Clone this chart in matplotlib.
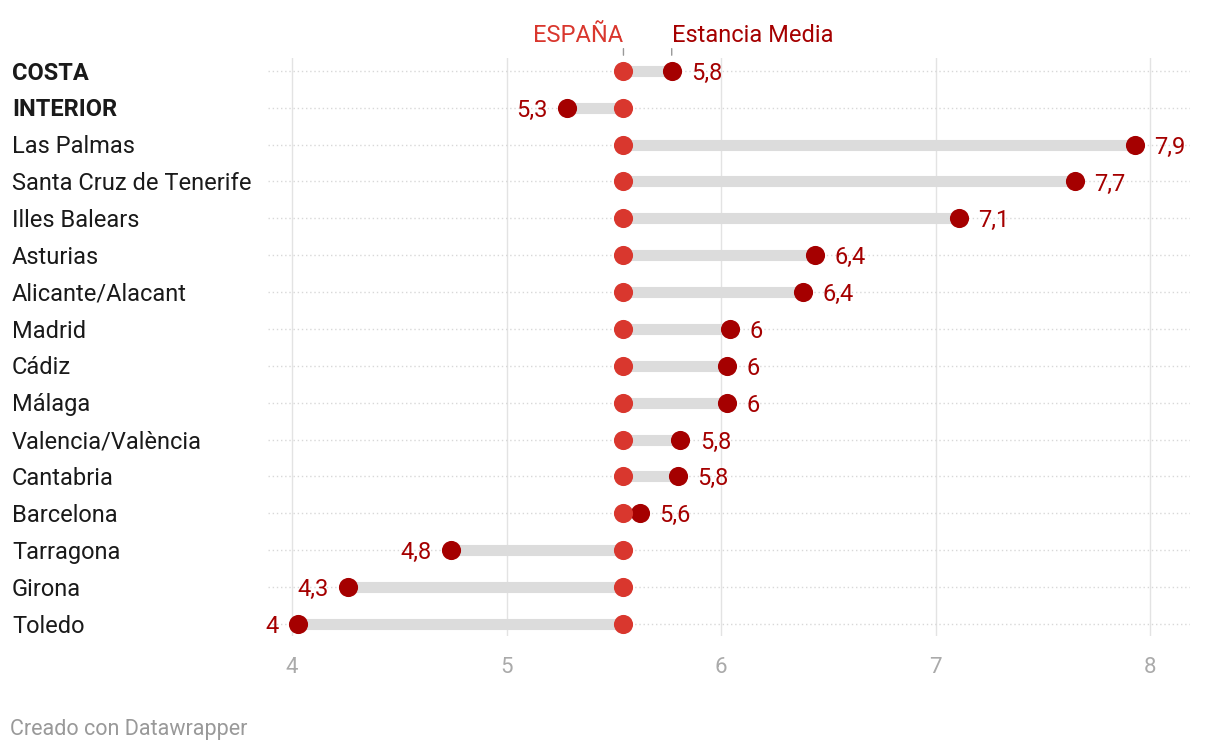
import matplotlib.pyplot as plt

plt.rcParams["font.family"] = ["Roboto", "DejaVu Sans"]

# Data
regions = ["COSTA", "INTERIOR", "Las Palmas", "Santa Cruz de Tenerife", "Illes Balears",
           "Asturias", "Alicante/Alacant", "Madrid", "Cádiz", "Málaga",
           "Valencia/València", "Cantabria", "Barcelona", "Tarragona", "Girona", "Toledo"]
media = [5.77, 5.28, 7.93, 7.65, 7.11, 6.44, 6.38, 6.04, 6.03, 6.03,
         5.81, 5.80, 5.62, 4.74, 4.26, 4.03]
labels = ["5,8", "5,3", "7,9", "7,7", "7,1", "6,4", "6,4", "6", "6", "6",
          "5,8", "5,8", "5,6", "4,8", "4,3", "4"]
espana = 5.545
bold_rows = ["COSTA", "INTERIOR"]
xticks = [4, 5, 6, 7, 8]

c_esp = "#d9372e"
c_med = "#a50000"

fig = plt.figure(figsize=(12.2, 7.52), dpi=100)
W, H = 1220, 752
ax = fig.add_axes([268 / W, 1 - 636 / H, (1190 - 268) / W, (636 - 58) / H])

n = len(regions)
ax.set_xlim(3.888, 8.186)
ax.set_ylim(n - 1 + 0.33, -0.35)

for x in xticks:
    ax.axvline(x, color="#e3e3e3", lw=1, zorder=0)

for i, (name, v, lab) in enumerate(zip(regions, media, labels)):
    ax.axhline(i, color="#d8d8d8", lw=1, ls=(0, (1, 2)), zorder=0)
    ax.plot([espana, v], [i, i], color="#dcdcdc", lw=8, solid_capstyle="butt", zorder=1)
    ax.scatter(v, i, s=190, color=c_med, zorder=3, linewidths=0)
    ax.scatter(espana, i, s=190, color=c_esp, zorder=4, linewidths=0)
    if v >= espana:
        ax.annotate(lab, (v, i), xytext=(14, 0), textcoords="offset points",
                    ha="left", va="center_baseline", color=c_med, fontsize=17)
    else:
        ax.annotate(lab, (v, i), xytext=(-14, 0), textcoords="offset points",
                    ha="right", va="center_baseline", color=c_med, fontsize=17)
    fig.text(12 / W, 1 - (70.5 + i * 36.87) / H, name, ha="left", va="center_baseline",
             fontsize=17, color="#1a1a1a",
             fontweight="bold" if name in bold_rows else "normal")

# legend labels above first row
ax.annotate("", xy=(espana, -0.35), xytext=(espana, -0.68),
            arrowprops=dict(arrowstyle="-", color="#999999", lw=1), annotation_clip=False)
ax.annotate("", xy=(media[0], -0.35), xytext=(media[0], -0.68),
            arrowprops=dict(arrowstyle="-", color="#999999", lw=1), annotation_clip=False)
ax.text(espana, -1.02, "ESPAÑA", ha="right", va="center_baseline", color=c_esp, fontsize=17)
ax.text(media[0], -1.02, "Estancia Media", ha="left", va="center_baseline", color=c_med, fontsize=17)

ax.set_xticks(xticks)
ax.set_xticklabels([str(x) for x in xticks])
ax.tick_params(axis="x", length=0, pad=15, labelsize=16, labelcolor="#aaaaaa")
ax.set_yticks([])
for s in ax.spines.values():
    s.set_visible(False)

fig.text(10 / W, 1 - 727 / H, "Creado con Datawrapper", ha="left", va="center_baseline",
         fontsize=15.5, color="#999999")

fig.savefig("out.png", dpi=100)
